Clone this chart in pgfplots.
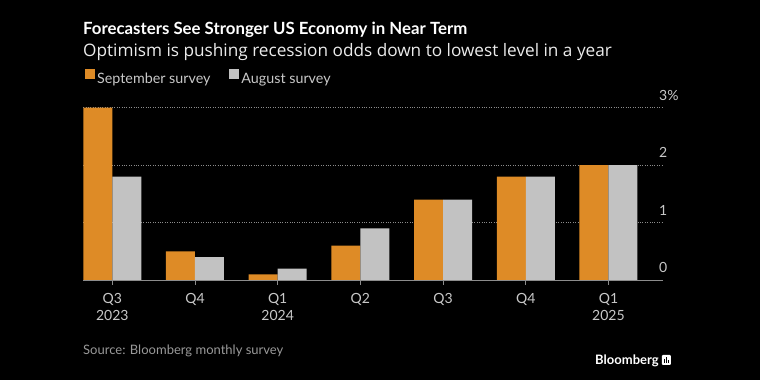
\documentclass[border=0pt]{standalone}
\usepackage{pgfplots}
\pgfplotsset{compat=1.18}
\usepackage{fontspec}
\setmainfont{Lato}
\newfontfamily\osans{Open Sans}
\definecolor{sept}{HTML}{DE8B26}
\definecolor{aug}{HTML}{C2C2C2}
\definecolor{lbl}{HTML}{C8C8C8}
\begin{document}
\begin{tikzpicture}
\fill[black] (0pt,0pt) rectangle (760pt,380pt);
\node[anchor=base west, inner sep=0, text=white, font=\bfseries\fontsize{16.8}{20}\selectfont] at (83pt,345pt) {Forecasters See Stronger US Economy in Near Term};
\node[anchor=base west, inner sep=0, text=white!92!black, font=\osans\fontsize{17.2}{19}\selectfont] at (83pt,323.5pt) {Optimism is pushing recession odds down to lowest level in a year};
\begin{axis}[
  at={(112.3pt,100pt)}, anchor=origin, scale only axis,
  width=579.7pt, height=172.3pt,
  xmin=-0.351, xmax=6.659, ymin=0, ymax=3,
  clip=false,
  ybar=0pt, bar width=29pt,
  axis x line*=bottom, axis y line*=right,
  y axis line style={draw=none},
  x axis line style={color=gray!90, line width=0.8pt},
  xtick={0,...,6},
  xticklabels={{Q3\\2023},Q4,{Q1\\2024},Q2,Q3,Q4,{Q1\\2025}},
  xticklabel style={align=center, text=lbl, yshift=-5pt, font=\fontsize{14}{17}\selectfont},
  tick align=outside,
  xtick style={color=gray!90, line width=0.8pt},
  major tick length=5pt,
  ytick={0,1,2,3},
  yticklabels={0,1,2,3\%},
  ytick style={draw=none},
  yticklabel style={anchor=south west, inner sep=0pt, xshift=-9pt, yshift=7pt, text=lbl, font=\fontsize{14}{17}\selectfont},
  ymajorgrids,
  grid style={dotted, color=gray!90, line width=0.8pt},
  /pgf/number format/assume math mode=true,
  legend columns=2,
  legend style={at={(axis description cs:0,1)}, anchor=south west, xshift=1.7pt, yshift=20pt,
    draw=none, fill=none, inner sep=0pt, text=lbl, font=\fontsize{14.3}{16}\selectfont,
    /tikz/every even column/.append style={column sep=17pt}},
  legend image code/.code={\fill[#1] (0pt,0pt) rectangle (10pt,10pt);},
]
\addplot[fill=sept, draw=none] coordinates {(0,3.0) (1,0.5) (2,0.1) (3,0.6) (4,1.4) (5,1.8) (6,2.0)};
\addplot[fill=aug, draw=none] coordinates {(0,1.8) (1,0.4) (2,0.2) (3,0.9) (4,1.4) (5,1.8) (6,2.0)};
\legend{September survey, August survey}
\end{axis}
\node[anchor=base west, inner sep=0, text=gray!80!white, font=\fontsize{13}{15}\selectfont] at (83pt,25pt) {Source: Bloomberg monthly survey};
\node[anchor=base west, inner sep=0, text=white, font=\bfseries\fontsize{13}{14}\selectfont] (bb) at (595pt,15pt) {Bloomberg};
\fill[white, rounded corners=1pt] ([xshift=3pt]bb.base east) rectangle ++(9pt,10pt);
\fill[black] ([xshift=5.5pt,yshift=2pt]bb.base east) rectangle ++(1pt,4pt);
\fill[black] ([xshift=7.5pt,yshift=2pt]bb.base east) rectangle ++(1pt,6pt);
\fill[black] ([xshift=9.5pt,yshift=2pt]bb.base east) rectangle ++(1pt,3pt);
\end{tikzpicture}
\end{document}
